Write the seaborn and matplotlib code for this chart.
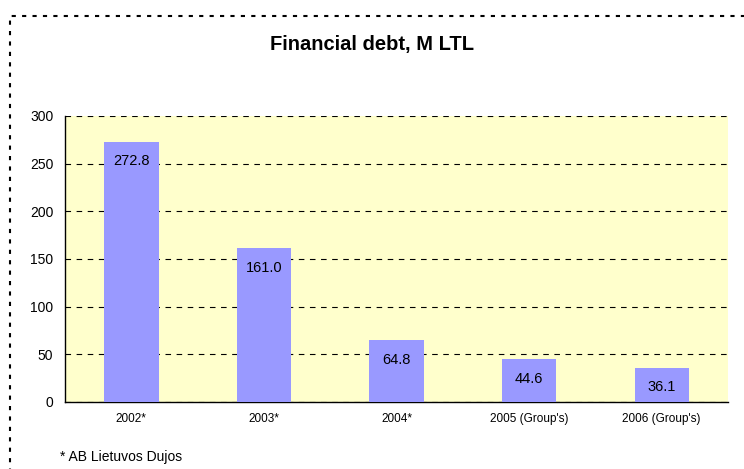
import matplotlib
matplotlib.use("Agg")
import matplotlib.pyplot as plt
import seaborn as sns
import pandas as pd
from matplotlib.patches import Rectangle

years = ["2002*", "2003*", "2004*", "2005 (Group's)", "2006 (Group's)"]
debt = [272.8, 161.0, 64.8, 44.6, 36.1]

df = pd.DataFrame({"year": years, "debt": debt})

sns.set_style("white")
plt.rcParams["font.family"] = ["Liberation Sans", "DejaVu Sans"]
plt.rcParams["text.color"] = "black"
plt.rcParams["xtick.color"] = "black"
plt.rcParams["ytick.color"] = "black"

fig = plt.figure(figsize=(7.44, 4.69), dpi=100)
ax = fig.add_axes([0.0874, 0.1429, 0.8911, 0.6098])
ax.set_facecolor("#FFFFCC")

sns.barplot(data=df, x="year", y="debt", color="#9999FF", saturation=1,
            width=0.41, linewidth=0, ax=ax, zorder=3)

# value labels just under the top of each bar
for i, v in enumerate(debt):
    ax.annotate(f"{v:.1f}", (i, v), xytext=(0, -14), textcoords="offset points",
                ha="center", va="center", fontsize=10.5, color="black", zorder=4)

ax.set_ylim(0, 300)
ax.set_xlim(-0.5, 4.5)
ax.set_yticks(range(0, 301, 50))
ax.yaxis.grid(True, color="black", linestyle=(0, (5, 5)), linewidth=0.8, zorder=1)
ax.set_axisbelow(True)

# category boundary ticks on x axis
ax.set_xticks([i - 0.5 for i in range(6)], minor=True)
ax.tick_params(axis="x", which="major", length=0, labelsize=8.5, pad=8)
ax.tick_params(axis="x", which="minor", length=5, width=1, direction="out")
ax.tick_params(axis="y", length=5, width=1, direction="out", labelsize=10)
ax.set_xlabel("")
ax.set_ylabel("")

for s in ["top", "right"]:
    ax.spines[s].set_visible(False)
for s in ["left", "bottom"]:
    ax.spines[s].set_color("black")
    ax.spines[s].set_linewidth(1)

fig.text(0.5, 0.905, "Financial debt, M LTL", ha="center", va="center",
         fontsize=14.5, fontweight="bold")
fig.text(0.08, 0.025, "* AB Lietuvos Dujos", ha="left", va="center", fontsize=10)

# dotted frame around chart area
fig.patches.append(Rectangle((0.0134, -0.1), 1.1, 1.066, transform=fig.transFigure,
                             fill=False, edgecolor="black", linewidth=1.5,
                             linestyle=(0, (2, 3)), clip_on=False))

fig.savefig("out.png", dpi=100)
